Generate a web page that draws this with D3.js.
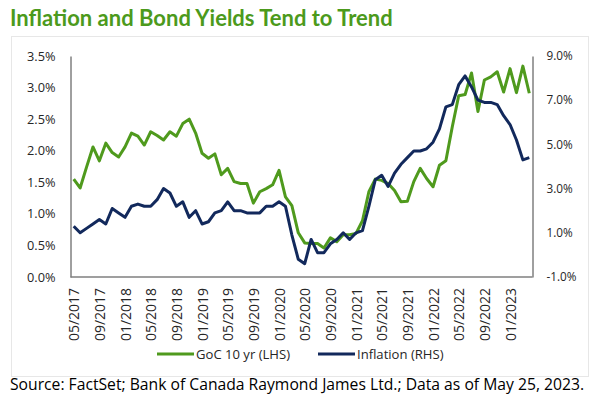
<!DOCTYPE html>
<html>
<head>
<meta charset="utf-8">
<script src="https://cdn.jsdelivr.net/npm/d3@7"></script>
<style>
  body { margin: 0; background: #fff; }
  svg { display: block; font-family: "Open Sans", "Noto Sans", sans-serif; }
</style>
</head>
<body>
<svg id="chart" width="601" height="398"></svg>
<script>
// monthly categories, 05/2017 .. 04/2023
const months = d3.timeMonth.range(new Date(2017, 4, 1), new Date(2023, 4, 1));

// GoC 10 yr yield (%), left axis
const goc10 = [
  1.55, 1.41, 1.74, 2.06, 1.84, 2.12, 1.97, 1.90, 2.06, 2.28,
  2.23, 2.09, 2.30, 2.24, 2.17, 2.30, 2.23, 2.43, 2.50, 2.28,
  1.96, 1.88, 1.95, 1.62, 1.72, 1.51, 1.48, 1.48, 1.17, 1.35,
  1.40, 1.46, 1.69, 1.27, 1.13, 0.70, 0.54, 0.53, 0.53, 0.46,
  0.62, 0.56, 0.67, 0.67, 0.69, 0.89, 1.35, 1.55, 1.53, 1.48,
  1.37, 1.19, 1.20, 1.51, 1.72, 1.56, 1.43, 1.77, 1.84, 2.38,
  2.87, 2.89, 3.23, 2.62, 3.12, 3.17, 3.25, 2.93, 3.30, 2.92,
  3.34, 2.91
];

// CPI inflation y/y (%), right axis
const inflation = [
  1.3, 1.0, 1.2, 1.4, 1.6, 1.4, 2.1, 1.9,
  1.7, 2.2, 2.3, 2.2, 2.2, 2.5, 3.0, 2.8, 2.2, 2.4, 1.7, 2.0,
  1.4, 1.5, 1.9, 2.0, 2.4, 2.0, 2.0, 1.9, 1.9, 1.9, 2.2, 2.2,
  2.4, 2.2, 0.9, -0.2, -0.4, 0.7, 0.1, 0.1, 0.5, 0.7, 1.0, 0.7,
  1.0, 1.1, 2.2, 3.4, 3.6, 3.1, 3.7, 4.1, 4.4, 4.7, 4.7, 4.8,
  5.1, 5.7, 6.7, 6.8, 7.7, 8.1, 7.6, 7.0, 6.9, 6.9, 6.8, 6.3,
  5.9, 5.2, 4.3, 4.4
];

const leftTicks = [0, 0.5, 1.0, 1.5, 2.0, 2.5, 3.0, 3.5];
const rightTicks = [-1, 1, 3, 5, 7, 9];
const seriesNames = ["GoC 10 yr (LHS)", "Inflation (RHS)"];

const green = "#4f9a1d";
const navy = "#12295c";
const textCol = "#262626";

const svg = d3.select("#chart");
const plot = { left: 70.5, right: 532.5, top: 56, bottom: 277 };

// shrink/grow a group of labels so one sample label gets the wanted width
function fitWidth(sel, target) {
  const n = sel.node();
  const w = n.getComputedTextLength();
  const fs = parseFloat(getComputedStyle(n).fontSize);
  sel.style("font-size", (fs * target / w).toFixed(2) + "px");
}

// outer dotted frame
svg.append("rect")
  .attr("x", 11.5).attr("y", 36.5)
  .attr("width", 577).attr("height", 340)
  .attr("fill", "none")
  .attr("stroke", "#cfcfcf")
  .attr("stroke-dasharray", "1,1");

svg.append("text")
  .attr("x", 10).attr("y", 26)
  .attr("fill", "#4c9a1c")
  .style("font-family", "Lato, sans-serif")
  .style("font-size", "22px")
  .style("font-weight", "bold")
  .text("Inflation and Bond Yields Tend to Trend");

const x = d3.scalePoint()
  .domain(d3.range(months.length))
  .range([plot.left, plot.right])
  .padding(0.5);
const yL = d3.scaleLinear().domain([0, 3.5]).range([plot.bottom, plot.top]);
const yR = d3.scaleLinear().domain([-1, 9]).range([plot.bottom, plot.top]);

// axes
const axL = svg.append("g")
  .attr("transform", `translate(${plot.left},0)`)
  .call(d3.axisLeft(yL).tickValues(leftTicks).tickSize(0).tickPadding(15)
    .tickFormat(d => d.toFixed(1) + "%"));
const axR = svg.append("g")
  .attr("transform", `translate(${plot.right},0)`)
  .call(d3.axisRight(yR).tickValues(rightTicks).tickSize(0).tickPadding(14)
    .tickFormat(d => d.toFixed(1) + "%"));
const xTickIdx = d3.range(0, months.length, 4);
const axB = svg.append("g")
  .attr("transform", `translate(0,${plot.bottom})`)
  .call(d3.axisBottom(x).tickValues(xTickIdx).tickSize(0)
    .tickFormat(i => d3.timeFormat("%m/%Y")(months[i])));
axB.select(".domain").attr("d", `M${plot.left},0H${plot.right}`);

axB.selectAll("text")
  .attr("transform", "rotate(-90)")
  .attr("text-anchor", "end")
  .attr("x", -11).attr("y", 0).attr("dy", "0.36em");

[axL, axR, axB].forEach(a => {
  a.selectAll("text")
    .attr("fill", textCol)
    .style("font-size", "12px")
    .style("font-family", "'Open Sans', sans-serif");
});
fitWidth(axL.selectAll("text"), 28.5);
fitWidth(axR.selectAll("text"), 30);
fitWidth(axB.selectAll("text"), 53);

axL.select(".domain").attr("stroke", "#404040");
axR.select(".domain").attr("stroke", "#404040");
axB.select(".domain").attr("stroke", "#7f7f7f").attr("stroke-width", 1.5);

// lines
const lineL = d3.line().x((d, i) => x(i)).y(d => yL(d));
const lineR = d3.line().x((d, i) => x(i)).y(d => yR(d));

svg.append("path")
  .datum(goc10)
  .attr("fill", "none")
  .attr("stroke", green)
  .attr("stroke-width", 3)
  .attr("stroke-linejoin", "round")
  .attr("d", lineL);

svg.append("path")
  .datum(inflation)
  .attr("fill", "none")
  .attr("stroke", navy)
  .attr("stroke-width", 3)
  .attr("stroke-linejoin", "round")
  .attr("d", lineR);

// legend
const legend = svg.append("g").attr("transform", "translate(0,354)");
const legItems = [
  { name: seriesNames[0], color: green, x: 157 },
  { name: seriesNames[1], color: navy, x: 318 }
];
legItems.forEach(it => {
  legend.append("line")
    .attr("x1", it.x).attr("x2", it.x + 37)
    .attr("y1", 0).attr("y2", 0)
    .attr("stroke", it.color).attr("stroke-width", 3);
  legend.append("text")
    .attr("class", "leg")
    .attr("x", it.x + 39).attr("y", 0).attr("dy", "0.36em")
    .attr("fill", textCol)
    .style("font-size", "13px")
    .text(it.name);
});
fitWidth(legend.selectAll("text.leg"), 94);

const src = svg.append("text")
  .attr("x", 10).attr("y", 390)
  .attr("fill", "#000")
  .style("font-size", "14px")
  .text("Source: FactSet; Bank of Canada Raymond James Ltd.; Data as of May 25, 2023.");
fitWidth(src, 574);
</script>
</body>
</html>
